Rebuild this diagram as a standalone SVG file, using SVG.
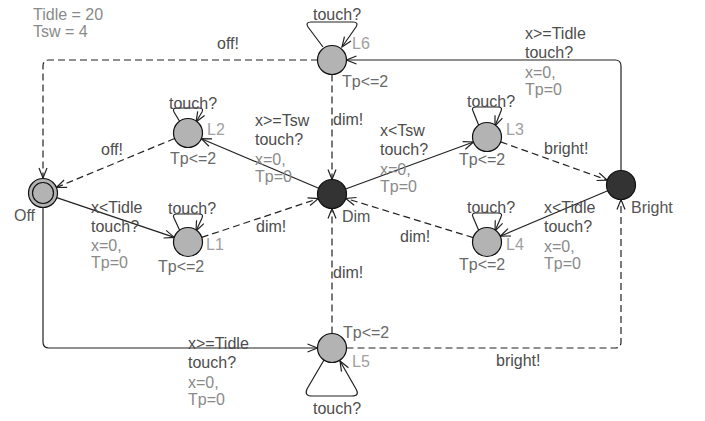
<svg xmlns="http://www.w3.org/2000/svg" width="705" height="421" viewBox="0 0 705 421">
  <style>
    text { font-family: "Liberation Sans", Arial, sans-serif; font-size: 16px; }
    .edge { fill: none; stroke: #222; stroke-width: 1.2; marker-end: url(#arrow); }
    .dash { stroke-dasharray: 7 4; }
    .loc { fill: #b3b3b3; stroke: #111; stroke-width: 1.2; }
    .urg { fill: #333; stroke: #111; stroke-width: 1.2; }
    .guard { fill: #4d4d4d; }
    .sync { fill: #4d4d4d; }
    .upd { fill: #8a8a8a; }
    .inv { fill: #6a6a6a; }
    .name { fill: #a0a0a0; }
    .lname { fill: #555; }
    .decl { fill: #8a8a8a; }
  </style>
  <defs>
    <marker id="arrow" viewBox="-11 -5 12 10" refX="0" refY="0" markerWidth="12" markerHeight="10" markerUnits="userSpaceOnUse" orient="auto">
      <path d="M-10,-4 L0,0 L-10,4" fill="none" stroke="#222" stroke-width="1.2"/>
    </marker>
  </defs>

  <!-- global declarations -->
  <g id="declarations">
    <text class="decl" x="33" y="20">Tidle = 20</text>
    <text class="decl" x="33" y="37">Tsw = 4</text>
  </g>

  <!-- transitions -->
  <g id="connectors">
    <!-- L6 -> Off -->
    <path class="edge dash" d="M318,60 L49,60 Q43,60 43,66 L43,178"/>
    <text class="sync" x="217" y="49">off!</text>
    <!-- L6 self loop -->
    <path class="edge" d="M323,47 L308,27 Q305,22 311,22 L353,22 Q359,22 356,27 L342,47"/>
    <text class="sync" x="313" y="20">touch?</text>
    <!-- Bright -> L6 -->
    <path class="edge" d="M621,170.5 L621,66 Q621,60 615,60 L346.5,60"/>
    <text class="guard" x="525" y="39">x&gt;=Tidle</text>
    <text class="sync" x="525" y="58">touch?</text>
    <text class="upd" x="525" y="78">x=0,</text>
    <text class="upd" x="525" y="95">Tp=0</text>
    <!-- L6 -> Dim -->
    <path class="edge dash" d="M332,74.5 L332,179.5"/>
    <text class="sync" x="333" y="125">dim!</text>
    <!-- Dim -> L2 -->
    <path class="edge" d="M318.7,188.3 L201.3,138.7"/>
    <text class="guard" x="255" y="126">x&gt;=Tsw</text>
    <text class="sync" x="255" y="145">touch?</text>
    <text class="upd" x="255" y="165">x=0,</text>
    <text class="upd" x="255" y="182">Tp=0</text>
    <!-- L2 self loop -->
    <path class="edge" d="M180,122 L174,112 Q172,108 177,108 L199,108 Q204,108 202,112 L196,122"/>
    <text class="sync" x="169" y="109">touch?</text>
    <!-- L2 -> Off -->
    <path class="edge dash" d="M174.6,138.5 L56.4,187.5"/>
    <text class="sync" x="101" y="155">off!</text>
    <!-- Off -> L1 -->
    <path class="edge" d="M56.7,197.6 L174.3,237.4"/>
    <text class="guard" x="91" y="213">x&lt;Tidle</text>
    <text class="sync" x="91" y="232">touch?</text>
    <text class="upd" x="91" y="251">x=0,</text>
    <text class="upd" x="91" y="268">Tp=0</text>
    <!-- L1 self loop -->
    <path class="edge" d="M180,231 L174,218 Q172,214 177,214 L199,214 Q204,214 202,218 L196,231"/>
    <text class="sync" x="168" y="214">touch?</text>
    <!-- L1 -> Dim -->
    <path class="edge dash" d="M201.7,237.4 L318.3,198.6"/>
    <text class="sync" x="256" y="232">dim!</text>
    <!-- Dim -> L3 -->
    <path class="edge" d="M345.6,189 L473.4,142"/>
    <text class="guard" x="380" y="136">x&lt;Tsw</text>
    <text class="sync" x="380" y="155">touch?</text>
    <text class="upd" x="380" y="175">x=0,</text>
    <text class="upd" x="380" y="192">Tp=0</text>
    <!-- L3 self loop -->
    <path class="edge" d="M479,126 L473,111 Q471,107 476,107 L498,107 Q503,107 501,111 L495,126"/>
    <text class="sync" x="467" y="107">touch?</text>
    <!-- L3 -> Bright -->
    <path class="edge dash" d="M500.7,141.9 L607.3,180.1"/>
    <text class="sync" x="544" y="154">bright!</text>
    <!-- Bright -> L4 -->
    <path class="edge" d="M607.7,190.8 L500.3,236.2"/>
    <text class="guard" x="544" y="213">x&lt;Tidle</text>
    <text class="sync" x="544" y="232">touch?</text>
    <text class="upd" x="544" y="252">x=0,</text>
    <text class="upd" x="544" y="269">Tp=0</text>
    <!-- L4 self loop -->
    <path class="edge" d="M479,231 L473,217 Q471,213 476,213 L498,213 Q503,213 501,217 L495,231"/>
    <text class="sync" x="467" y="213">touch?</text>
    <!-- L4 -> Dim -->
    <path class="edge dash" d="M473.2,237.6 L345.8,198.4"/>
    <text class="sync" x="400" y="242">dim!</text>
    <!-- Off -> L5 -->
    <path class="edge" d="M43,207.5 L43,342 Q43,348 49,348 L317.5,348"/>
    <text class="guard" x="188" y="349">x&gt;=Tidle</text>
    <text class="sync" x="188" y="368">touch?</text>
    <text class="upd" x="188" y="388">x=0,</text>
    <text class="upd" x="188" y="405">Tp=0</text>
    <!-- L5 self loop -->
    <path class="edge" d="M324,360 L307,389 Q304,396 312,396 L352,396 Q360,396 356,389 L340,361"/>
    <text class="sync" x="313" y="414">touch?</text>
    <!-- L5 -> Dim -->
    <path class="edge dash" d="M332,333.5 L332,208.5"/>
    <text class="sync" x="333" y="278">dim!</text>
    <!-- L5 -> Bright -->
    <path class="edge dash" d="M346.5,348 L615,348 Q621,348 621,342 L621,199.5"/>
    <text class="sync" x="496" y="366">bright!</text>
  </g>

  <!-- locations -->
  <g id="Off">
    <circle class="loc" cx="43" cy="193" r="14.5"/>
    <circle class="loc" cx="43" cy="193" r="10.5"/>
    <text class="lname" x="14" y="221">Off</text>
  </g>
  <g id="L6">
    <circle class="loc" cx="332" cy="60" r="14.5"/>
    <text class="name" x="352" y="49">L6</text>
    <text class="inv" x="342" y="87">Tp&lt;=2</text>
  </g>
  <g id="L2">
    <circle class="loc" cx="188" cy="133" r="14.5"/>
    <text class="name" x="207" y="135">L2</text>
    <text class="inv" x="170" y="164">Tp&lt;=2</text>
  </g>
  <g id="L1">
    <circle class="loc" cx="188" cy="242" r="14.5"/>
    <text class="name" x="206" y="250">L1</text>
    <text class="inv" x="158" y="272">Tp&lt;=2</text>
  </g>
  <g id="Dim">
    <circle class="urg" cx="332" cy="194" r="14.5"/>
    <text class="lname" x="342" y="222">Dim</text>
  </g>
  <g id="L3">
    <circle class="loc" cx="487" cy="137" r="14.5"/>
    <text class="name" x="506" y="135">L3</text>
    <text class="inv" x="459" y="165">Tp&lt;=2</text>
  </g>
  <g id="L4">
    <circle class="loc" cx="487" cy="242" r="14.5"/>
    <text class="name" x="506" y="250">L4</text>
    <text class="inv" x="459" y="270">Tp&lt;=2</text>
  </g>
  <g id="Bright">
    <circle class="urg" cx="621" cy="185" r="14.5"/>
    <text class="lname" x="631" y="213">Bright</text>
  </g>
  <g id="L5">
    <circle class="loc" cx="332" cy="348" r="14.5"/>
    <text class="inv" x="343" y="338">Tp&lt;=2</text>
    <text class="name" x="352" y="367">L5</text>
  </g>
</svg>
